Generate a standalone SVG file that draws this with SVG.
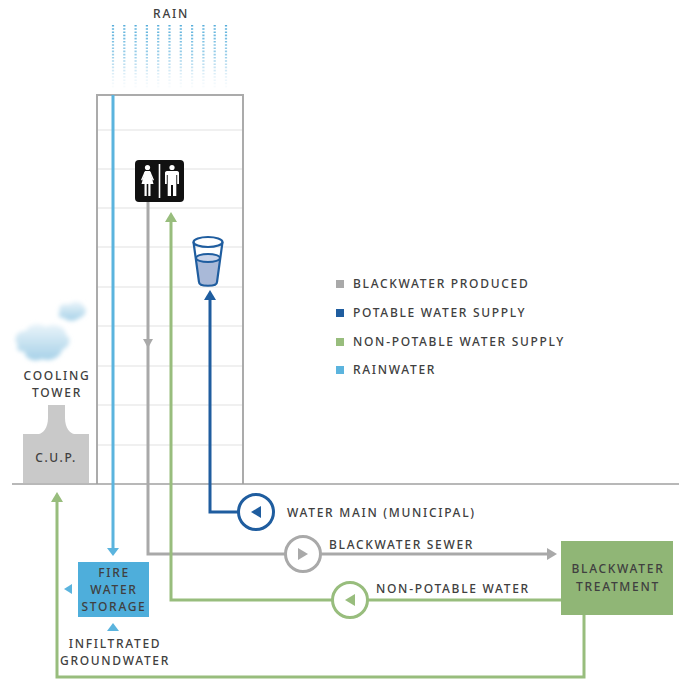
<svg xmlns="http://www.w3.org/2000/svg" width="679" height="680" viewBox="0 0 679 680">
  <style>
    text { font-family: "Noto Sans", "Open Sans", "Liberation Sans", sans-serif; fill: #404040; letter-spacing: 1.7px; }
    .lbl { font-size: 12px; font-weight: 500; }
    .ctr { text-anchor: middle; }
    .grid { stroke: #e2e2e2; stroke-width: 1.2; }
    .gray { stroke: #a9a9a9; stroke-width: 3; fill: none; }
    .blue { stroke: #1f5d9f; stroke-width: 3; fill: none; }
    .green { stroke: #98bd7d; stroke-width: 3; fill: none; }
    .rainline { stroke: #5bb4de; stroke-width: 3; fill: none; }
    .pump { fill: #ffffff; stroke-width: 3; }
  </style>
  <defs>
    <linearGradient id="rainFade" gradientUnits="userSpaceOnUse" x1="0" y1="24" x2="0" y2="88">
      <stop offset="0" stop-color="#4aa8d8" stop-opacity="0.95"/>
      <stop offset="0.55" stop-color="#7cc0e3" stop-opacity="0.7"/>
      <stop offset="1" stop-color="#cfe6f3" stop-opacity="0.1"/>
    </linearGradient>
    <linearGradient id="cloudFill" x1="0" y1="0" x2="0" y2="1">
      <stop offset="0" stop-color="#eaf4fa"/>
      <stop offset="1" stop-color="#a6d1e8"/>
    </linearGradient>
    <filter id="soft" x="-30%" y="-30%" width="160%" height="160%">
      <feGaussianBlur stdDeviation="2"/>
    </filter>
  </defs>

  <!-- rain -->
  <g id="rain">
    <text class="lbl ctr" x="171" y="18">RAIN</text>
    <g stroke="url(#rainFade)" stroke-width="2.2" stroke-dasharray="1.6 1.6">
      <line x1="113" y1="25" x2="113" y2="88"/>
      <line x1="124.3" y1="25" x2="124.3" y2="88"/>
      <line x1="135.6" y1="25" x2="135.6" y2="88"/>
      <line x1="146.9" y1="25" x2="146.9" y2="88"/>
      <line x1="158.2" y1="25" x2="158.2" y2="88"/>
      <line x1="169.5" y1="25" x2="169.5" y2="88"/>
      <line x1="180.8" y1="25" x2="180.8" y2="88"/>
      <line x1="192.1" y1="25" x2="192.1" y2="88"/>
      <line x1="203.4" y1="25" x2="203.4" y2="88"/>
      <line x1="214.7" y1="25" x2="214.7" y2="88"/>
      <line x1="226" y1="25" x2="226" y2="88"/>
    </g>
  </g>

  <!-- building with floor lines -->
  <g id="building">
    <g class="grid">
      <line x1="97" y1="130" x2="243" y2="130"/>
      <line x1="97" y1="169" x2="243" y2="169"/>
      <line x1="97" y1="208" x2="243" y2="208"/>
      <line x1="97" y1="247" x2="243" y2="247"/>
      <line x1="97" y1="287" x2="243" y2="287"/>
      <line x1="97" y1="326" x2="243" y2="326"/>
      <line x1="97" y1="366" x2="243" y2="366"/>
      <line x1="97" y1="405" x2="243" y2="405"/>
      <line x1="97" y1="445" x2="243" y2="445"/>
    </g>
    <path d="M97,484 V95 H243 V484" fill="none" stroke="#ababab" stroke-width="2"/>
  </g>

  <!-- ground -->
  <line id="ground" x1="12" y1="484" x2="679" y2="484" stroke="#a0a0a0" stroke-width="1.6"/>

  <!-- cooling tower / central utility plant -->
  <g id="cooling-tower">
    <g filter="url(#soft)">
      <path d="M18,345 C12,338 18,330 26,331 C28,324 40,322 46,327 C54,322 66,327 66,335 C72,338 70,347 62,350 C60,358 50,362 42,359 C34,363 24,358 25,352 C19,352 15,349 18,345 Z" fill="url(#cloudFill)"/>
      <path d="M60,312 C57,306 64,302 69,305 C72,300 82,301 84,307 C88,310 85,317 79,318 C75,322 66,321 64,318 C59,318 57,315 60,312 Z" fill="url(#cloudFill)"/>
    </g>
    <text class="lbl ctr" x="57" y="380">COOLING</text>
    <text class="lbl ctr" x="57" y="397">TOWER</text>
    <path d="M48,405 H65 V418 C65,428 70,433 74,434 H89 V483 H23 V434 H39 C43,433 48,428 48,418 Z" fill="#c9c9c9"/>
    <text class="lbl ctr" x="56" y="462">C.U.P.</text>
  </g>

  <!-- restroom -->
  <g id="restroom">
    <rect x="135" y="160" width="49" height="42" rx="4" fill="#111111"/>
    <line x1="159.5" y1="164" x2="159.5" y2="198" stroke="#ffffff" stroke-width="1.6"/>
    <g fill="#ffffff">
      <!-- woman -->
      <circle cx="147.5" cy="167.5" r="2.6"/>
      <path d="M145,171 H150 L153.5,184 H150.5 V196 H148.3 V184 H146.7 V196 H144.5 V184 H141.5 Z"/>
      <path d="M144.6,171.5 L141,180 L142.3,180.6 L145.6,173 Z"/>
      <path d="M150.4,171.5 L154,180 L152.7,180.6 L149.4,173 Z"/>
      <!-- man -->
      <circle cx="172" cy="167.5" r="2.6"/>
      <path d="M167,171 H177 C178.5,171 179,172 179,173 V184 H177.2 V175 H176.3 V196 H173 V185 H171 V196 H167.7 V175 H166.8 V184 H165 V173 C165,172 165.5,171 167,171 Z"/>
    </g>
  </g>

  <!-- drinking water glass -->
  <g id="glass">
    <path d="M196,258 L199,282 C199,286 217,286 217,282 L220,258 Z" fill="#a9b9d8"/>
    <ellipse cx="208" cy="258" rx="12" ry="4" fill="#c9d4ea" stroke="#1f5d9f" stroke-width="2"/>
    <path d="M193.5,242 L199,282 C199,287 217,287 217,282 L222.5,242" fill="none" stroke="#1f5d9f" stroke-width="2.2"/>
    <ellipse cx="208" cy="242" rx="14.5" ry="5" fill="#ffffff" stroke="#1f5d9f" stroke-width="2.2"/>
  </g>

  <!-- connectors -->
  <g id="connectors">
    <!-- rainwater to fire water storage -->
    <line class="rainline" x1="113" y1="95" x2="113" y2="549"/>
    <path d="M107,548 L119,548 L113,556 Z" fill="#5bb4de"/>

    <!-- blackwater produced -->
    <path class="gray" d="M148,202 V554 H548"/>
    <path d="M143,339 L153,339 L148,348 Z" fill="#a9a9a9"/>
    <path d="M547,548 L557,554 L547,560 Z" fill="#a9a9a9"/>

    <!-- potable water supply -->
    <path class="blue" d="M255,512 H210 V298"/>
    <path d="M204,300 L216,300 L210,290 Z" fill="#1f5d9f"/>

    <!-- non-potable water to building -->
    <path class="green" d="M561,600 H171 V220"/>
    <path d="M165,222 L177,222 L171,212 Z" fill="#98bd7d"/>

    <!-- non-potable water to C.U.P. -->
    <path class="green" d="M584,615 V677 H57 V500"/>
    <path d="M51,502 L63,502 L57,492 Z" fill="#98bd7d"/>

    <!-- groundwater / overflow markers -->
    <path d="M107,631 L119,631 L113,623 Z" fill="#5bb4de"/>
    <path d="M72,584 L72,594 L64,589 Z" fill="#5bb4de"/>
  </g>

  <!-- pumps -->
  <g id="pump-water-main">
    <circle class="pump" cx="256" cy="512" r="17.5" stroke="#1f5d9f"/>
    <path d="M261,506 L261,518 L251,512 Z" fill="#1f5d9f"/>
    <text class="lbl" x="287" y="517">WATER MAIN (MUNICIPAL)</text>
  </g>
  <g id="pump-sewer">
    <circle class="pump" cx="303" cy="554" r="17.5" stroke="#a9a9a9"/>
    <path d="M298,548 L298,560 L308,554 Z" fill="#a9a9a9"/>
    <text class="lbl" x="329" y="549">BLACKWATER SEWER</text>
  </g>
  <g id="pump-non-potable">
    <circle class="pump" cx="350" cy="600" r="17.5" stroke="#98bd7d"/>
    <path d="M355,594 L355,606 L345,600 Z" fill="#98bd7d"/>
    <text class="lbl" x="376" y="593">NON-POTABLE WATER</text>
  </g>

  <!-- fire water storage -->
  <g id="fire-water-storage">
    <rect x="78" y="562" width="71" height="55" fill="#4eaedb"/>
    <text class="lbl ctr" x="114" y="577">FIRE</text>
    <text class="lbl ctr" x="114" y="594">WATER</text>
    <text class="lbl ctr" x="114" y="611">STORAGE</text>
  </g>
  <g id="groundwater">
    <text class="lbl ctr" x="115" y="648">INFILTRATED</text>
    <text class="lbl ctr" x="115" y="665">GROUNDWATER</text>
  </g>

  <!-- blackwater treatment -->
  <g id="blackwater-treatment">
    <rect x="561" y="541" width="112" height="74" fill="#90b676"/>
    <text class="lbl ctr" x="618" y="573">BLACKWATER</text>
    <text class="lbl ctr" x="618" y="591">TREATMENT</text>
  </g>

  <!-- legend -->
  <g id="legend">
    <rect x="336" y="280" width="8" height="8" fill="#a9a9a9"/>
    <text class="lbl" x="353" y="288">BLACKWATER PRODUCED</text>
    <rect x="336" y="309" width="8" height="8" fill="#1f5d9f"/>
    <text class="lbl" x="353" y="317">POTABLE WATER SUPPLY</text>
    <rect x="336" y="338" width="8" height="8" fill="#98bd7d"/>
    <text class="lbl" x="353" y="346">NON-POTABLE WATER SUPPLY</text>
    <rect x="336" y="366" width="8" height="8" fill="#5bb4de"/>
    <text class="lbl" x="353" y="374">RAINWATER</text>
  </g>
</svg>
